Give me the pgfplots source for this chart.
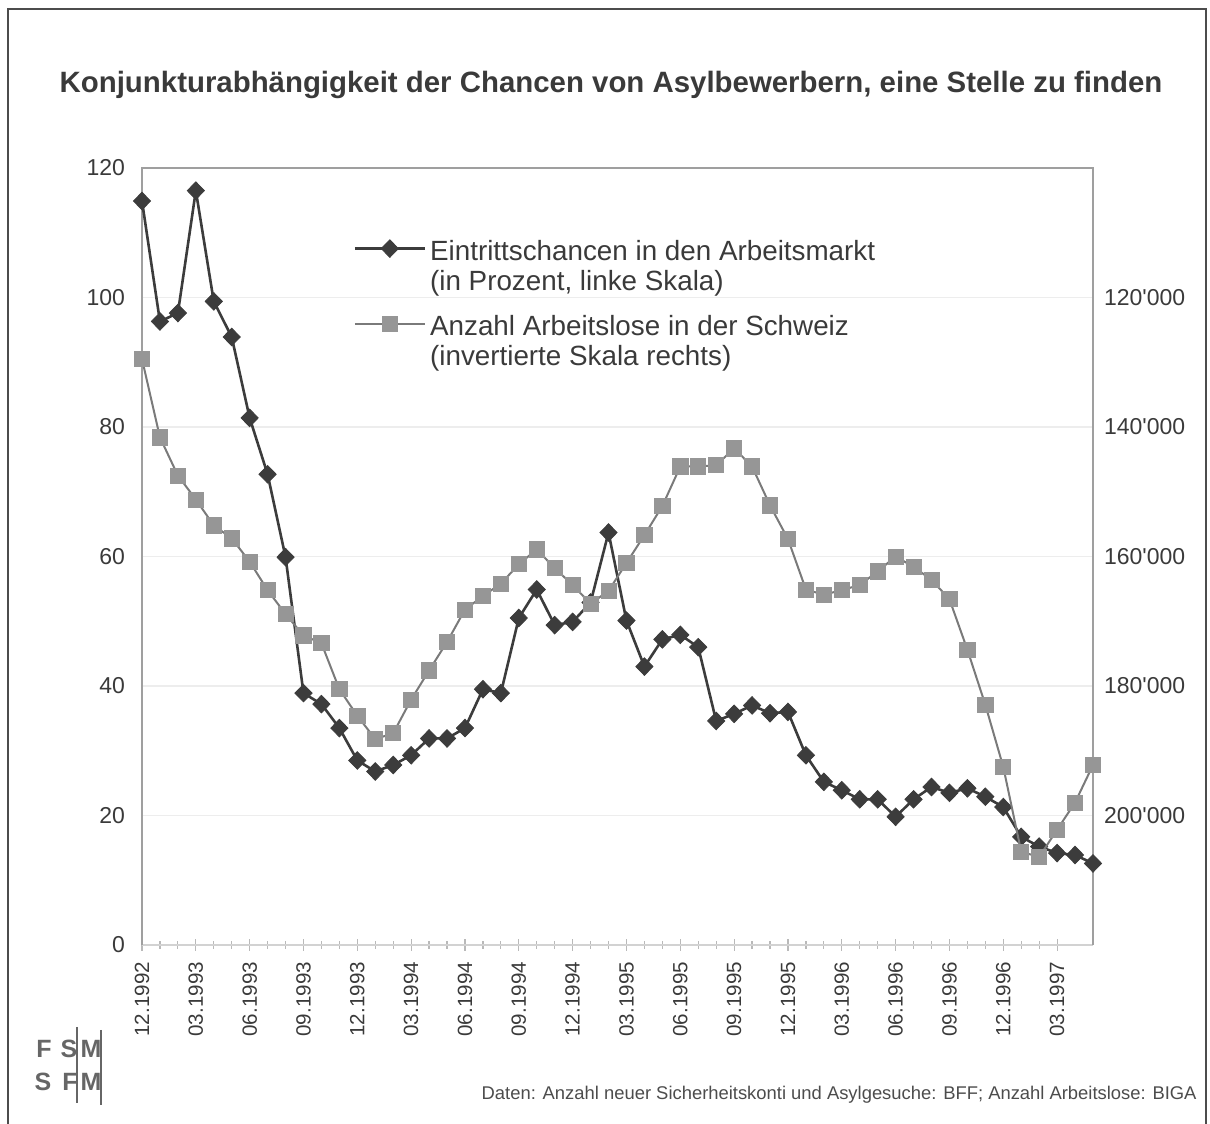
\documentclass[border=0pt]{standalone}
\usepackage{pgfplots}
\usepackage{pgfplotstable}
\pgfplotsset{compat=1.18}
\usepackage{fontspec}
\setmainfont{Liberation Sans}
\definecolor{txt}{HTML}{3A3A3A}
\definecolor{dia}{HTML}{3C3C3C}
\definecolor{sqf}{HTML}{969696}
\definecolor{sql}{HTML}{7A7A7A}

% Eintrittschancen (percent, left scale)
\pgfplotstableread{
m v
0 114.9
1 96.3
2 97.6
3 116.5
4 99.4
5 93.9
6 81.4
7 72.7
8 59.9
9 38.9
10 37.2
11 33.5
12 28.5
13 26.8
14 27.8
15 29.3
16 31.9
17 31.9
18 33.5
19 39.5
20 38.9
21 50.5
22 54.9
23 49.4
24 49.9
25 52.9
26 63.7
27 50.1
28 43.0
29 47.2
30 47.9
31 46.0
32 34.6
33 35.7
34 37.0
35 35.8
36 36.0
37 29.3
38 25.2
39 23.9
40 22.5
41 22.5
42 19.8
43 22.5
44 24.4
45 23.5
46 24.2
47 22.9
48 21.3
49 16.7
50 15.2
51 14.2
52 13.9
53 12.6
}\chancen

% Anzahl Arbeitslose (right scale, inverted)
\pgfplotstableread{
m v
0 129500
1 141600
2 147500
3 151200
4 155200
5 157200
6 160800
7 165200
8 168900
9 172200
10 173400
11 180500
12 184600
13 188200
14 187300
15 182100
16 177600
17 173200
18 168200
19 166100
20 164200
21 161200
22 158900
23 161800
24 164400
25 167300
26 165300
27 161000
28 156700
29 152200
30 146100
31 146100
32 145900
33 143300
34 146100
35 152100
36 157300
37 165100
38 165900
39 165200
40 164400
41 162300
42 160000
43 161600
44 163600
45 166600
46 174400
47 182900
48 192500
49 205600
50 206400
51 202200
52 198000
53 192200
}\arbeitslose

\begin{document}
\begin{tikzpicture}[x=1pt,y=1pt]
\useasboundingbox (0,0) rectangle (605,562);
\draw[line width=1pt, black!70] (4,0) -- (4,557.5) -- (603,557.5) -- (603,0);
\node[font=\bfseries\fontsize{14.7}{16}\selectfont, text=txt] at (305.5,519.5)
  {Konjunkturabhängigkeit der Chancen von Asylbewerbern, eine Stelle zu finden};

% logo
\begin{scope}[every node/.style={font=\bfseries\fontsize{12.5}{12.5}\selectfont, text=black!60, inner sep=0pt}]
\node at (22,37.5) {F};
\node at (34.5,37.5) {S};
\node at (45.5,37.5) {M};
\node at (21.5,21) {S};
\node at (35,21) {F};
\node at (45.5,21) {M};
\draw[black!60, line width=1pt] (38.5,48.5) -- (38.5,10.5);
\draw[black!60, line width=1pt] (50.5,47) -- (50.5,9.5);
\end{scope}

\node[anchor=base east, inner sep=0pt, font=\fontsize{9.2}{10}\selectfont, text=black!70] at (598.5,12)
  {Daten: Anzahl neuer Sicherheitskonti und Asylgesuche: BFF; Anzahl Arbeitslose: BIGA};

\begin{axis}[
  at={(71pt,89.5pt)}, anchor=south west,
  scale only axis, width=475.5pt, height=388.5pt,
  xmin=0, xmax=53, ymin=0, ymax=120,
  axis line style={draw=none},
  /pgf/number format/assume math mode=true,
  xtick={0,3,...,51},
  xticklabels={12.1992,03.1993,06.1993,09.1993,12.1993,03.1994,06.1994,09.1994,12.1994,03.1995,06.1995,09.1995,12.1995,03.1996,06.1996,09.1996,12.1996,03.1997},
  minor x tick num=2,
  xtick pos=bottom, ytick pos=left,
  tick align=center,
  major tick length=6pt, minor tick length=4pt,
  x tick style={gray!55, line width=0.6pt},
  ytick={0,20,...,120},
  y tick style={draw=none},
  ymajorgrids, grid style={gray!14, line width=0.7pt},
  xticklabel style={rotate=90, anchor=east, font=\fontsize{10.3}{12}\selectfont, text=txt, xshift=-2pt},
  yticklabel style={font=\fontsize{11.5}{13}\selectfont, text=txt, xshift=-2pt},
  clip=false,
]
\draw[gray!35, line width=0.8pt] (rel axis cs:0,0) -- (rel axis cs:1,0);
\draw[gray!75, line width=0.8pt] (rel axis cs:0,0) -- (rel axis cs:0,1) -- (rel axis cs:1,1) -- (rel axis cs:1,0);
\addplot[color=dia, line width=1.3pt, mark=diamond*, mark size=4.4pt,
  mark options={fill=dia, draw=dia, xscale=1.3, line width=0.4pt}] table[x=m, y=v] {\chancen};
\end{axis}

\begin{axis}[
  at={(71pt,89.5pt)}, anchor=south west,
  scale only axis, width=475.5pt, height=388.5pt,
  xmin=0, xmax=53, ymin=100000, ymax=220000,
  y dir=reverse,
  axis x line=none,
  axis y line*=right,
  axis line style={draw=none},
  y tick style={draw=none},
  ytick={120000,140000,160000,180000,200000},
  yticklabels={120\textquotesingle 000,140\textquotesingle 000,160\textquotesingle 000,180\textquotesingle 000,200\textquotesingle 000},
  yticklabel style={font=\fontsize{11.5}{13}\selectfont, text=txt, xshift=2pt},
  scaled y ticks=false,
  clip=false,
  legend style={at={(0.222,0.913)}, anchor=north west, draw=none, fill=none,
    font=\fontsize{13.9}{15}\selectfont, text=txt, cells={align=left, anchor=west},
    row sep=7pt, inner sep=0pt},
  legend image code/.code={\draw[mark repeat=2, mark phase=2, #1] plot coordinates {(0pt,9pt) (17.5pt,9pt) (35pt,9pt)};},
]
\addlegendimage{color=dia, line width=1.3pt, mark=diamond*, mark size=4.4pt,
  mark options={fill=dia, draw=dia, xscale=1.3, line width=0.4pt}}
\addlegendentry{Eintrittschancen in den Arbeitsmarkt\\(in Prozent, linke Skala)}
\addplot[color=sql, line width=1pt, mark=square*, mark size=3.8pt,
  mark options={fill=sqf, draw=sqf, line width=0.4pt}] table[x=m, y=v] {\arbeitslose};
\addlegendentry{Anzahl Arbeitslose in der Schweiz\\(invertierte Skala rechts)}
\end{axis}
\end{tikzpicture}
\end{document}
